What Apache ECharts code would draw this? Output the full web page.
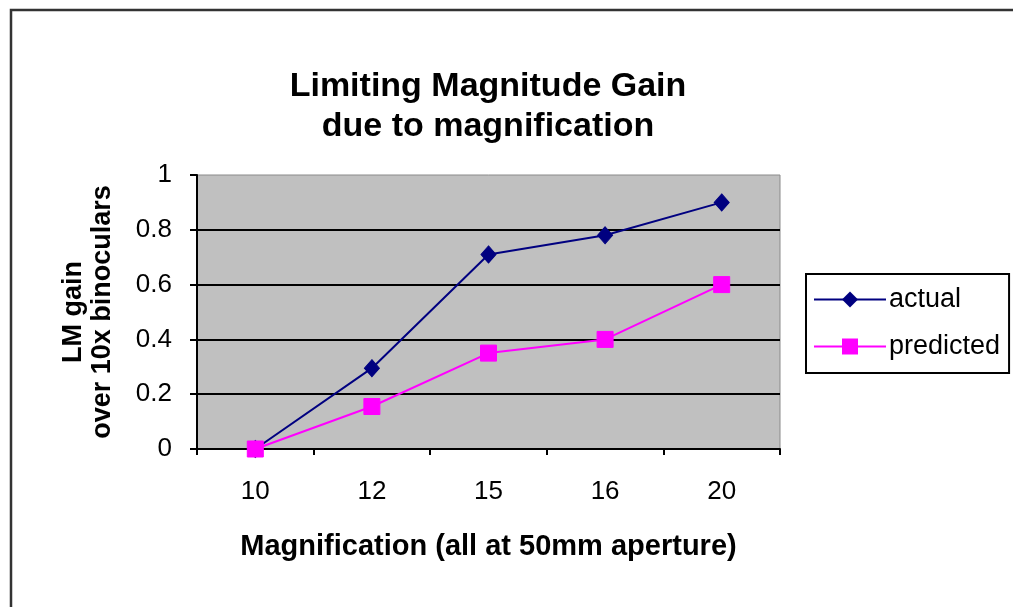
<!DOCTYPE html>
<html>
<head>
<meta charset="utf-8">
<script src="https://cdn.jsdelivr.net/npm/echarts@6/dist/echarts.min.js"></script>
<style>
  html, body { margin: 0; padding: 0; background: #ffffff; }
  #chart { width: 1013px; height: 607px; }
</style>
</head>
<body>
<div id="chart"></div>
<script>
const categories = ['10', '12', '15', '16', '20'];
const actualValues = [0, 0.295, 0.71, 0.78, 0.9];
const predictedValues = [0, 0.155, 0.35, 0.40, 0.60];
const titleText = 'Limiting Magnitude Gain\ndue to magnification';
const xAxisTitle = 'Magnification (all at 50mm aperture)';
const yAxisTitle = 'LM gain\nover 10x binoculars';
const seriesNames = ['actual', 'predicted'];

const FONT = '"Liberation Sans", Arial, sans-serif';
const chart = echarts.init(document.getElementById('chart'), null, { renderer: 'canvas' });

chart.setOption({
  backgroundColor: '#ffffff',
  animation: false,
  graphic: [
    {
      type: 'rect',
      shape: { x: 11, y: 10, width: 1100, height: 700 },
      style: { fill: 'none', stroke: '#333333', lineWidth: 2.5 },
      silent: true
    },
    {
      type: 'text',
      x: 488,
      y: 67,
      style: {
        text: titleText,
        fontFamily: FONT,
        fontWeight: 'bold',
        fontSize: 34,
        lineHeight: 40,
        fill: '#000000',
        align: 'center',
        verticalAlign: 'top'
      }
    }
  ],
  grid: {
    left: 197,
    right: 233,
    top: 175,
    bottom: 158,
    show: true,
    backgroundColor: '#c0c0c0',
    borderColor: '#8a8a8a',
    borderWidth: 1
  },
  legend: {
    orient: 'vertical',
    left: 806,
    top: 274,
    data: seriesNames,
    itemWidth: 72,
    itemHeight: 20,
    itemGap: 20,
    padding: [12, 9, 13, 7],
    borderColor: '#000000',
    borderWidth: 2,
    textStyle: { fontFamily: FONT, fontSize: 27, color: '#000000', padding: [0, 0, 0, -2] }
  },
  xAxis: {
    type: 'category',
    data: categories,
    boundaryGap: true,
    name: xAxisTitle,
    nameLocation: 'middle',
    nameGap: 83,
    nameTextStyle: { fontFamily: FONT, fontWeight: 'bold', fontSize: 29, color: '#000000' },
    axisLine: { show: true, lineStyle: { color: '#000000', width: 2 } },
    axisTick: { show: true, inside: false, length: 6, alignWithLabel: false, lineStyle: { color: '#000000', width: 2 } },
    axisLabel: { fontFamily: FONT, fontSize: 26, color: '#000000', margin: 30 },
    splitLine: { show: false }
  },
  yAxis: {
    type: 'value',
    min: 0,
    max: 1,
    interval: 0.2,
    name: yAxisTitle,
    nameLocation: 'middle',
    nameRotate: 90,
    nameGap: 80,
    nameTextStyle: { fontFamily: FONT, fontWeight: 'bold', fontSize: 27, lineHeight: 29, color: '#000000', align: 'center' },
    axisLine: { show: true, lineStyle: { color: '#000000', width: 2 } },
    axisTick: { show: true, inside: false, length: 7, lineStyle: { color: '#000000', width: 2 } },
    axisLabel: { fontFamily: FONT, fontSize: 26, color: '#000000', margin: 25 },
    splitLine: { show: true, showMinLine: false, showMaxLine: false, lineStyle: { color: '#000000', width: 2 } }
  },
  series: [
    {
      name: seriesNames[0],
      type: 'line',
      data: actualValues,
      symbol: 'diamond',
      symbolSize: [15, 17],
      lineStyle: { color: '#000080', width: 2 },
      itemStyle: { color: '#000080', borderColor: '#000080' },
      z: 3
    },
    {
      name: seriesNames[1],
      type: 'line',
      data: predictedValues,
      symbol: 'rect',
      symbolSize: 16,
      lineStyle: { color: '#ff00ff', width: 2 },
      itemStyle: { color: '#ff00ff', borderColor: '#ff00ff' },
      z: 4
    }
  ]
});
</script>
</body>
</html>
